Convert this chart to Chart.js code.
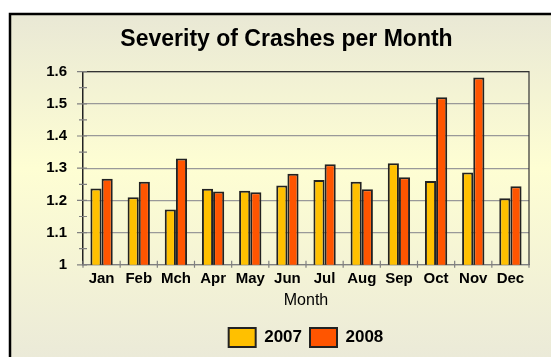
<!DOCTYPE html>
<html>
<head>
<meta charset="utf-8">
<script src="https://cdn.jsdelivr.net/npm/chart.js@4/dist/chart.umd.min.js"></script>
<style>
  body { margin: 0; background: #fff; }
  canvas { display: block; }
</style>
</head>
<body>
<canvas id="crashes" width="551" height="357"></canvas>
<script>
// monthly crash severity, two years side by side
var months = ['Jan', 'Feb', 'Mch', 'Apr', 'May', 'Jun', 'Jul', 'Aug', 'Sep', 'Oct', 'Nov', 'Dec'];
var sev2007 = [1.237, 1.210, 1.172, 1.236, 1.230, 1.246, 1.263, 1.258, 1.315, 1.260, 1.287, 1.207];
var sev2008 = [1.267, 1.258, 1.330, 1.228, 1.225, 1.283, 1.312, 1.235, 1.272, 1.520, 1.582, 1.244];
var yTicks = [1, 1.1, 1.2, 1.3, 1.4, 1.5, 1.6];

var FONT = '"Liberation Sans", Arial, sans-serif';

// panel fill + black edge on the left and top
var panelBg = {
    id: 'panelBg',
    beforeDraw: function (chart) {
        var ctx = chart.ctx;
        var w = chart.width, h = chart.height;
        ctx.save();
        ctx.fillStyle = '#fff';
        ctx.fillRect(0, 0, w, h);
        var g = ctx.createLinearGradient(0, 14, 0, h);
        g.addColorStop(0, '#E9E8D5');
        g.addColorStop(0.45, '#FEFED3');
        g.addColorStop(1, '#EBEAD8');
        ctx.fillStyle = g;
        ctx.fillRect(10, 14, w - 10, h - 14);
        ctx.strokeStyle = '#000';
        ctx.lineWidth = 2.5;
        ctx.beginPath();
        ctx.moveTo(10, h);
        ctx.lineTo(10, 14);
        ctx.lineTo(w, 14);
        ctx.stroke();
        ctx.restore();
    }
};

// plot frame (top/right) and the little tick marks crossing both axes
var axisMarks = {
    id: 'axisMarks',
    beforeDatasetsDraw: function (chart) {
        var ctx = chart.ctx, a = chart.chartArea;
        var xs = chart.scales.x, ys = chart.scales.y;
        ctx.save();
        ctx.strokeStyle = '#333';
        ctx.lineWidth = 1.2;
        ctx.beginPath();
        ctx.moveTo(a.left, a.top);
        ctx.lineTo(a.right, a.top);
        ctx.lineTo(a.right, a.bottom);
        ctx.stroke();

        ctx.strokeStyle = '#808080';
        ctx.lineWidth = 1.2;
        ctx.beginPath();
        for (var i = 0; i < yTicks.length; i++) {
            var py = ys.getPixelForValue(yTicks[i]);
            ctx.moveTo(a.left - 6, py);
            ctx.lineTo(a.left + 4, py);
            if (i < yTicks.length - 1) {
                var pm = ys.getPixelForValue(yTicks[i] + 0.05);
                ctx.moveTo(a.left - 4, pm);
                ctx.lineTo(a.left + 4, pm);
            }
        }
        var step = (xs.getPixelForValue(1) - xs.getPixelForValue(0));
        for (var j = 0; j <= months.length; j++) {
            var px = xs.getPixelForValue(0) - step / 2 + step * j;
            ctx.moveTo(px, a.bottom - 4);
            ctx.lineTo(px, a.bottom + 3);
        }
        ctx.stroke();
        ctx.restore();
    }
};

new Chart(document.getElementById('crashes'), {
    type: 'bar',
    data: {
        labels: months,
        datasets: [{
            label: '2007',
            data: sev2007,
            backgroundColor: '#FFC000',
            borderColor: '#222',
            borderWidth: 2,
            categoryPercentage: 0.6,
            barPercentage: 1.0
        }, {
            label: '2008',
            data: sev2008,
            backgroundColor: '#FF5500',
            borderColor: '#222',
            borderWidth: 2,
            categoryPercentage: 0.6,
            barPercentage: 1.0
        }]
    },
    options: {
        responsive: false,
        animation: false,
        layout: { padding: { left: 44, right: 22, top: 14, bottom: 0 } },
        plugins: {
            title: {
                display: true,
                text: 'Severity of Crashes per Month',
                color: '#000',
                font: { family: FONT, size: 23, weight: 'bold' },
                padding: { top: 12, bottom: 18 }
            },
            legend: {
                position: 'bottom',
                fullSize: false,
                labels: {
                    color: '#000',
                    font: { family: FONT, size: 17, weight: 'bold' },
                    boxWidth: 27,
                    boxHeight: 19,
                    padding: 8
                }
            },
            tooltip: { enabled: false }
        },
        scales: {
            x: {
                grid: { display: false, drawTicks: false },
                border: { color: '#808080', width: 1.2 },
                ticks: {
                    color: '#000',
                    font: { family: FONT, size: 15, weight: 'bold' },
                    padding: 5,
                    maxRotation: 0,
                    autoSkip: false
                },
                title: {
                    display: true,
                    text: 'Month',
                    color: '#000',
                    font: { family: FONT, size: 16 },
                    padding: { top: -2, bottom: 10 }
                }
            },
            y: {
                min: 1,
                max: 1.6,
                afterFit: function (scale) { scale.width = 39; },
                afterBuildTicks: function (scale) {
                    scale.ticks = yTicks.map(function (v) { return { value: v }; });
                },
                grid: { color: '#999', lineWidth: 1.2, drawTicks: false },
                border: { color: '#222', width: 1.5 },
                ticks: {
                    color: '#000',
                    font: { family: FONT, size: 15, weight: 'bold' },
                    padding: 16,
                    callback: function (v) { return String(+Number(v).toFixed(1)); }
                }
            }
        }
    },
    plugins: [panelBg, axisMarks]
});
</script>
</body>
</html>
